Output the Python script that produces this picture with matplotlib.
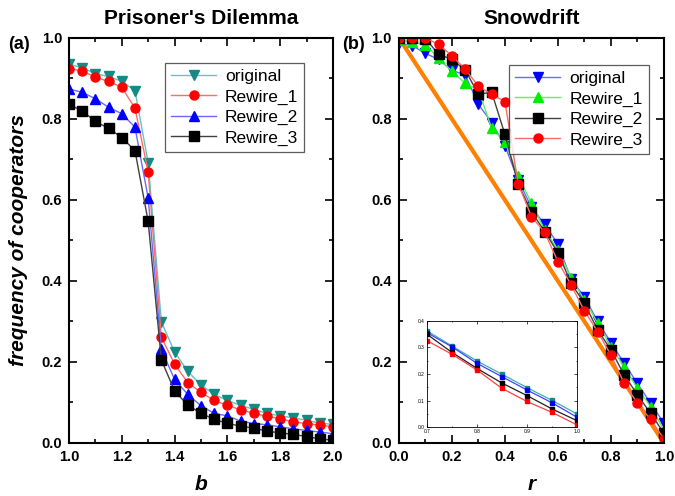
import matplotlib
matplotlib.use("Agg")
import matplotlib.pyplot as plt
from matplotlib.ticker import MultipleLocator

plt.rcParams['font.family'] = ['Liberation Sans', 'DejaVu Sans']

# Prisoner's Dilemma: temptation b
b_vals = [1.00, 1.05, 1.10, 1.15, 1.20, 1.25, 1.30, 1.35, 1.40, 1.45, 1.50,
          1.55, 1.60, 1.65, 1.70, 1.75, 1.80, 1.85, 1.90, 1.95, 2.00]
pd_original = [0.936, 0.926, 0.912, 0.905, 0.893, 0.870, 0.692, 0.299, 0.225, 0.177, 0.143,
               0.120, 0.105, 0.093, 0.083, 0.073, 0.067, 0.062, 0.056, 0.049, 0.046]
pd_rewire1 = [0.924, 0.919, 0.903, 0.893, 0.878, 0.827, 0.670, 0.261, 0.195, 0.149, 0.125,
              0.105, 0.093, 0.082, 0.073, 0.066, 0.060, 0.052, 0.048, 0.044, 0.040]
pd_rewire2 = [0.874, 0.866, 0.850, 0.829, 0.813, 0.780, 0.605, 0.231, 0.157, 0.120, 0.092,
              0.073, 0.067, 0.054, 0.048, 0.045, 0.040, 0.035, 0.031, 0.027, 0.023]
pd_rewire3 = [0.836, 0.820, 0.794, 0.777, 0.754, 0.722, 0.547, 0.205, 0.129, 0.093, 0.074,
              0.058, 0.049, 0.041, 0.037, 0.029, 0.025, 0.021, 0.016, 0.010, 0.007]

# Snowdrift: cost-to-benefit ratio r
r_vals = [0.00, 0.05, 0.10, 0.15, 0.20, 0.25, 0.30, 0.35, 0.40, 0.45, 0.50,
          0.55, 0.60, 0.65, 0.70, 0.75, 0.80, 0.85, 0.90, 0.95, 1.00]
sd_original = [0.987, 0.981, 0.962, 0.947, 0.920, 0.909, 0.836, 0.791, 0.734, 0.649, 0.582,
               0.540, 0.491, 0.404, 0.361, 0.300, 0.248, 0.197, 0.147, 0.098, 0.049]
sd_rewire1 = [0.995, 0.990, 0.983, 0.950, 0.918, 0.888, 0.872, 0.777, 0.744, 0.659, 0.592,
              0.526, 0.477, 0.407, 0.353, 0.296, 0.238, 0.188, 0.135, 0.090, 0.032]
sd_rewire2 = [1.000, 1.000, 0.998, 0.960, 0.947, 0.921, 0.861, 0.866, 0.762, 0.639, 0.571,
              0.522, 0.470, 0.394, 0.345, 0.279, 0.230, 0.168, 0.119, 0.073, 0.024]
sd_rewire3 = [1.000, 1.000, 1.000, 0.984, 0.956, 0.923, 0.881, 0.861, 0.843, 0.640, 0.559,
              0.520, 0.448, 0.390, 0.326, 0.275, 0.217, 0.147, 0.098, 0.058, 0.010]
# well-mixed reference 1 - r
wm_r = [0.0, 1.0]
wm_freq = [1.0, 0.0]

# zoomed region 0.7 <= r <= 1
ins_r = [0.70, 0.75, 0.80, 0.85, 0.90, 0.95, 1.00]
ins_teal = [0.362, 0.305, 0.249, 0.199, 0.149, 0.101, 0.050]
ins_blue = [0.355, 0.302, 0.240, 0.190, 0.140, 0.092, 0.038]
ins_black = [0.349, 0.281, 0.221, 0.166, 0.119, 0.069, 0.025]
ins_red = [0.325, 0.274, 0.215, 0.146, 0.097, 0.056, 0.009]


def style_axes(ax, xmaj, xmin, ymaj, ymin, size=10.5, major=6, minor=3):
    ax.xaxis.set_major_locator(MultipleLocator(xmaj))
    ax.xaxis.set_minor_locator(MultipleLocator(xmin))
    ax.yaxis.set_major_locator(MultipleLocator(ymaj))
    ax.yaxis.set_minor_locator(MultipleLocator(ymin))
    ax.tick_params(which='both', direction='in', top=True, right=True, width=1.2)
    ax.tick_params(which='major', length=major, labelsize=size, pad=5)
    ax.tick_params(which='minor', length=minor)
    for lbl in ax.get_xticklabels() + ax.get_yticklabels():
        lbl.set_fontweight('bold')
    for sp in ax.spines.values():
        sp.set_linewidth(1.5)


def series(ax, x, y, mk, line_col, mark_col, label, ms=6.5, lw=1.0):
    ax.plot(x, y, marker=mk, color=line_col, lw=lw, ms=ms,
            markerfacecolor=mark_col, markeredgecolor=mark_col, label=label)


fig = plt.figure(figsize=(6.75, 4.96), dpi=100)

# ---- (a) Prisoner's Dilemma ----
ax1 = fig.add_axes([0.1022, 0.1069, 0.391, 0.8165])
series(ax1, b_vals, pd_original, 'v', '#66c4c0', '#138a84', 'original')
series(ax1, b_vals, pd_rewire1, 'o', '#ff6a6a', '#ff0000', 'Rewire_1')
series(ax1, b_vals, pd_rewire2, '^', '#6a6aff', '#0000ff', 'Rewire_2')
series(ax1, b_vals, pd_rewire3, 's', '#404040', '#000000', 'Rewire_3')
ax1.set_xlim(1.0, 2.0)
ax1.set_ylim(0.0, 1.0)
style_axes(ax1, 0.2, 0.1, 0.2, 0.1)
ax1.set_xlabel('b', fontsize=15, fontweight='bold', style='italic', labelpad=8)
ax1.set_ylabel('frequency of cooperators', fontsize=15, fontweight='bold',
               style='italic', labelpad=10)
ax1.set_title("Prisoner's Dilemma", fontsize=15, fontweight='bold', pad=10)
ax1.text(-0.23, 0.985, '(a)', transform=ax1.transAxes, fontsize=13,
         fontweight='bold', va='center')
leg1 = ax1.legend(loc='upper right', bbox_to_anchor=(0.925, 0.96), fontsize=12.5,
                  fancybox=False, edgecolor='#333333', handlelength=2.6,
                  borderpad=0.35, labelspacing=0.3, handletextpad=0.5)
leg1.get_frame().set_linewidth(0.9)

# ---- (b) Snowdrift ----
ax2 = fig.add_axes([0.591, 0.1069, 0.3926, 0.8165])
ax2.plot(wm_r, wm_freq, color='#ff8000', lw=3, zorder=1)
series(ax2, r_vals, sd_original, 'v', '#6a6aff', '#0000ff', 'original')
series(ax2, r_vals, sd_rewire1, '^', '#60f060', '#00ee00', 'Rewire_1')
series(ax2, r_vals, sd_rewire2, 's', '#404040', '#000000', 'Rewire_2')
series(ax2, r_vals, sd_rewire3, 'o', '#ff6a6a', '#ff0000', 'Rewire_3')
ax2.set_xlim(0.0, 1.0)
ax2.set_ylim(0.0, 1.0)
style_axes(ax2, 0.2, 0.1, 0.2, 0.1)
ax2.set_xlabel('r', fontsize=15, fontweight='bold', style='italic', labelpad=8)
ax2.set_title('Snowdrift', fontsize=15, fontweight='bold', pad=10)
ax2.text(-0.215, 0.985, '(b)', transform=ax2.transAxes, fontsize=13,
         fontweight='bold', va='center')
leg2 = ax2.legend(loc='upper right', bbox_to_anchor=(0.975, 0.955), fontsize=12.5,
                  fancybox=False, edgecolor='#333333', handlelength=2.6,
                  borderpad=0.35, labelspacing=0.3, handletextpad=0.5)
leg2.get_frame().set_linewidth(0.9)

# ---- inset ----
ax3 = fig.add_axes([0.6326, 0.1385, 0.2222, 0.2149])
series(ax3, ins_r, ins_teal, 's', '#40b0b0', '#138a84', None, ms=2.2, lw=0.9)
series(ax3, ins_r, ins_blue, 's', '#4040ff', '#0000ff', None, ms=2.2, lw=0.9)
series(ax3, ins_r, ins_black, 's', '#202020', '#000000', None, ms=2.2, lw=0.9)
series(ax3, ins_r, ins_red, 's', '#ff4040', '#ff0000', None, ms=2.2, lw=0.9)
ax3.set_xlim(0.7, 1.0)
ax3.set_ylim(0.0, 0.4)
style_axes(ax3, 0.1, 0.05, 0.1, 0.05, size=3.5, major=2, minor=1)
ax3.tick_params(which='both', width=0.5, pad=1.5)
for sp in ax3.spines.values():
    sp.set_linewidth(0.6)
for lbl in ax3.get_xticklabels() + ax3.get_yticklabels():
    lbl.set_fontweight('normal')

fig.savefig('out.png', dpi=100)
